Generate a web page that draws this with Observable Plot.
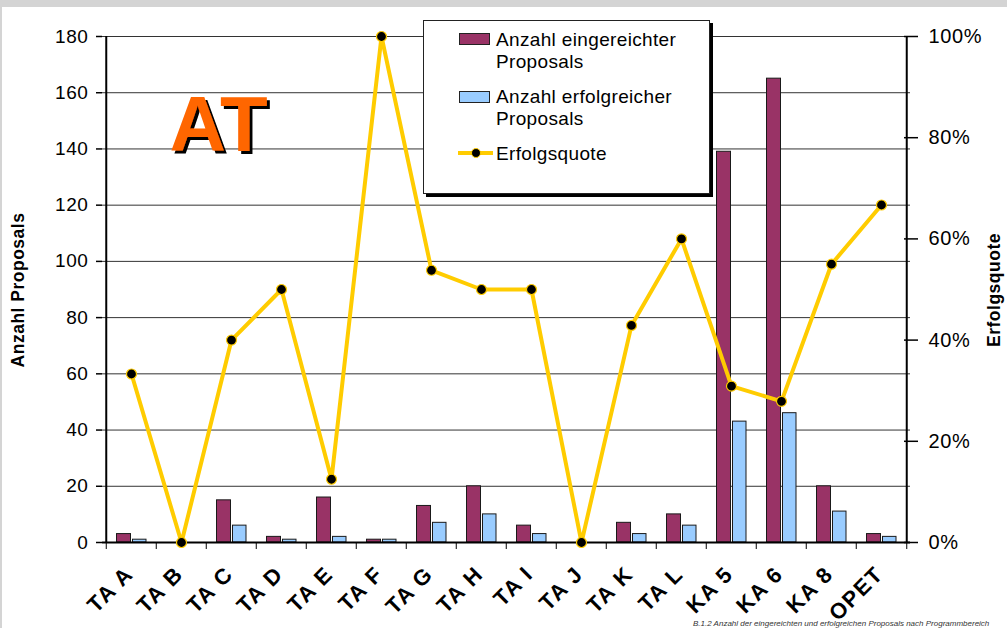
<!DOCTYPE html>
<html>
<head>
<meta charset="utf-8">
<script src="https://cdn.jsdelivr.net/npm/d3@7"></script>
<script src="https://cdn.jsdelivr.net/npm/@observablehq/plot@0.6"></script>
<style>
  html, body { margin: 0; padding: 0; background: #fff; overflow: hidden; }
  body { width: 1007px; height: 628px; position: relative; font-family: "Liberation Sans", Arial, sans-serif; }
  #chart { position: absolute; left: 0; top: 0; }
  .strip-top { position: absolute; left: 0; top: 0; width: 1007px; height: 7px; background: #d4d4d4; }
  .strip-left { position: absolute; left: 0; top: 0; width: 2px; height: 628px; background: #d4d4d4; }
  .legend { position: absolute; left: 423px; top: 20px; width: 287px; height: 174px; box-sizing: border-box;
            border: 1px solid #222; background: #fff; box-shadow: 3px 3px 0 #000; }
  .legend .sw { position: absolute; left: 35px; width: 31px; height: 12px; box-sizing: border-box; border: 1px solid #222; }
  .legend .tx { position: absolute; left: 72px; font-size: 19px; letter-spacing: 0.35px; line-height: 21.7px; color: #000; white-space: nowrap; }
  .legend .ln { position: absolute; left: 34px; width: 35px; height: 4px; background: #FFCC00; }
  .legend .dt { position: absolute; width: 10px; height: 10px; border-radius: 50%; background: #000; box-sizing: border-box; border: 1px solid #FFCC00; }
  .ytitle { position: absolute; font-weight: bold; font-size: 17.5px; letter-spacing: 0.5px; white-space: nowrap; transform: translate(-50%, -50%) rotate(-90deg); }
  .caption { position: absolute; left: 693px; top: 619px; font-size: 8px; font-style: italic; color: #333; white-space: nowrap; }
</style>
</head>
<body>
<div id="chart"></div>
<div class="strip-top"></div>
<div class="strip-left"></div>
<div class="ytitle" style="left:18px; top:290px;">Anzahl Proposals</div>
<div class="ytitle" style="left:994px; top:290px;">Erfolgsquote</div>
<div class="legend">
  <div class="sw" style="top:12px; background:#993366;"></div>
  <div class="tx" style="top:8px;">Anzahl eingereichter<br>Proposals</div>
  <div class="sw" style="top:70px; background:#99CCFF;"></div>
  <div class="tx" style="top:65px;">Anzahl erfolgreicher<br>Proposals</div>
  <div class="ln" style="top:130px;"></div>
  <div class="dt" style="left:47px; top:127px;"></div>
  <div class="tx" style="top:122px;">Erfolgsquote</div>
</div>
<div class="caption">B.1.2 Anzahl der eingereichten und erfolgreichen Proposals nach Programmbereich</div>
<script>
const categories = ["TA A","TA B","TA C","TA D","TA E","TA F","TA G","TA H","TA I","TA J","TA K","TA L","KA 5","KA 6","KA 8","OPET"];
const eingereicht = [3,0,15,2,16,1,13,20,6,0,7,10,139,165,20,3];
const erfolgreich = [1,0,6,1,2,1,7,10,3,0,3,6,43,46,11,2];
const quote = [33.3,0,40,50,12.5,100,53.8,50,50,0,42.9,60,30.9,27.9,55,66.7];
const leftTicks = [0,20,40,60,80,100,120,140,160,180];
const pctTicks = [0,20,40,60,80,100];
const badge = [{cat: "TA C", v: 148, label: "AT"}];

const PCT = 1.8; // 100% on the right axis equals 180 on the left axis
const table = categories.map((c, i) => ({cat: c, e: eingereicht[i], s: erfolgreich[i], q: quote[i] * PCT}));
const half = 808 / 16 / 2;

const chart = Plot.plot({
  width: 1007,
  height: 628,
  marginLeft: 102,
  marginRight: 97,
  marginTop: 36,
  marginBottom: 86,
  style: {fontFamily: "Liberation Sans, Arial, sans-serif", background: "transparent", color: "#000", overflow: "visible"},
  x: {type: "band", domain: categories, padding: 0, axis: null},
  y: {domain: [0, 180], axis: null},
  marks: [
    Plot.gridY(leftTicks, {stroke: "#333", strokeOpacity: 1, strokeWidth: 1}),
    Plot.barY(table.filter(d => d.e > 0), {x: "cat", y: "e", fill: "#993366", stroke: "#1a1a1a", strokeWidth: 1, insetLeft: 10.5, insetRight: 25.5}),
    Plot.barY(table.filter(d => d.s > 0), {x: "cat", y: "s", fill: "#99CCFF", stroke: "#1a1a1a", strokeWidth: 1, insetLeft: 26.5, insetRight: 10}),
    Plot.ruleY([0], {strokeWidth: 2}),
    Plot.ruleX([categories[0]], {dx: -half, strokeWidth: 2}),
    Plot.ruleX([categories[categories.length - 1]], {dx: half, strokeWidth: 2}),
    Plot.ruleX(categories, {dx: -half, y1: 0, y2: -2.5, strokeWidth: 1}),
    Plot.ruleX([categories[categories.length - 1]], {dx: half, y1: 0, y2: -2.5, strokeWidth: 1}),
    Plot.line(table, {x: "cat", y: "q", stroke: "#FFCC00", strokeWidth: 4}),
    Plot.dot(table, {x: "cat", y: "q", r: 5, fill: "#000", stroke: "#FFCC00", strokeWidth: 1.2}),
    Plot.axisY(leftTicks, {anchor: "left", tickSize: 6, tickPadding: 8, fontSize: 19, strokeWidth: 1.5, label: null}),
    Plot.axisY(pctTicks.map(p => p * PCT), {anchor: "right", tickSize: 7, tickPadding: 11, fontSize: 20, strokeWidth: 1.5, label: null,
      tickFormat: d => `${Math.round(d / PCT)}%`}),
    Plot.axisY(pctTicks.map(p => p * PCT), {anchor: "right", tickSize: -7, strokeWidth: 1.5, label: null, tickFormat: () => ""}),
    Plot.axisX({anchor: "bottom", tickSize: 0, tickPadding: 28, dx: -2, tickRotate: -45, fontSize: 22, fontWeight: "bold", label: null}),
    Plot.text(badge, {x: "cat", y: "v", text: "label", dx: -13, fontSize: 78, fontWeight: "bold", fill: "#FF6600"})
  ]
});

// drop shadow for the "AT" badge
const svg = d3.select(chart);
const defs = svg.insert("defs", ":first-child");
const f = defs.append("filter").attr("id", "atshadow").attr("x", "-10%").attr("y", "-10%").attr("width", "130%").attr("height", "130%");
f.append("feDropShadow").attr("dx", 3).attr("dy", 3).attr("stdDeviation", 0).attr("flood-color", "#000").attr("flood-opacity", 1);
svg.selectAll("text").filter(function() { return this.textContent === "AT"; }).attr("filter", "url(#atshadow)");
// wider letter spacing for the axis labels (Windows Arial look)
svg.selectAll('g[aria-label="x-axis tick label"] text').style("letter-spacing", "1.5px");
svg.selectAll('g[aria-label="y-axis tick label"] text').style("letter-spacing", "0.6px");
document.getElementById("chart").appendChild(chart);
</script>
</body>
</html>
